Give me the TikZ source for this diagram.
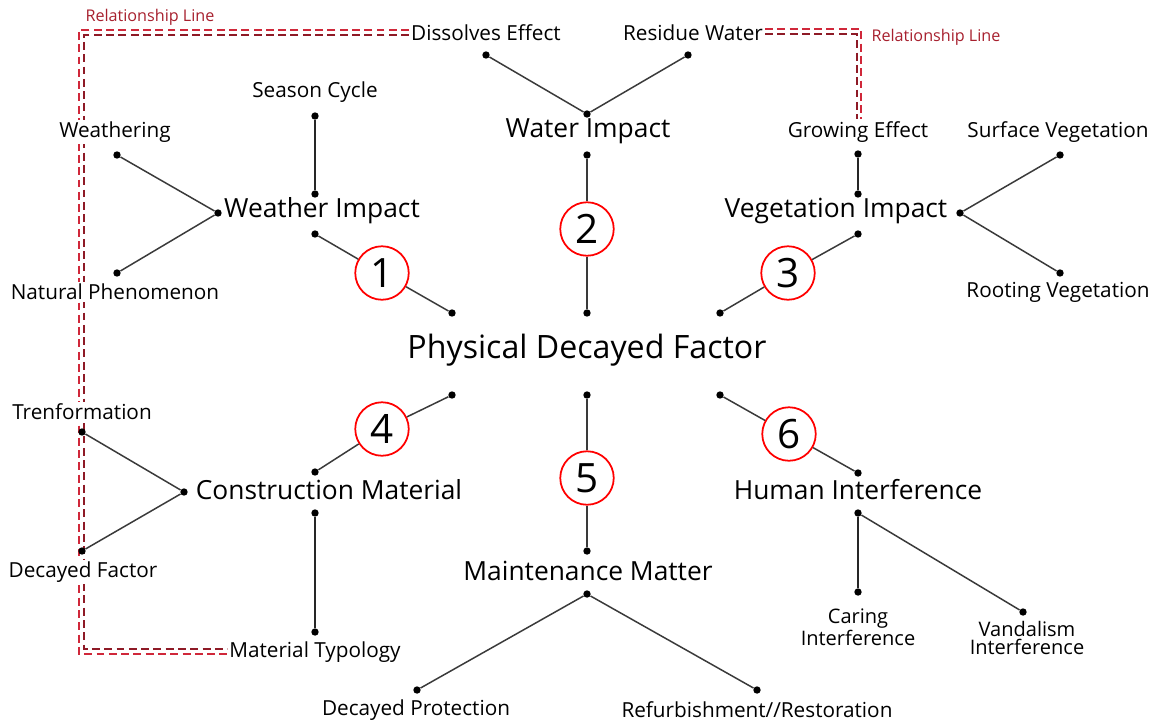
\documentclass[tikz,border=0pt]{standalone}
\usepackage{fontspec}
\setmainfont{Open Sans}
\usepackage{tikz}
\usetikzlibrary{backgrounds}
\definecolor{relred}{HTML}{D0283A}
\definecolor{reldark}{HTML}{8E1A26}
\definecolor{linkgray}{HTML}{3A3A3A}
\tikzset{
  jdot/.style = {circle, fill=black, inner sep=0pt, minimum size=4.2pt},
  link/.style = {draw=linkgray, line width=0.85pt},
  thick link/.style = {draw=black!85, line width=1.3pt},
  small/.style = {inner sep=1pt, fill=white, font=\fontsize{11.8}{13}\selectfont},
  mid/.style = {inner sep=1pt, fill=white, font=\fontsize{15}{17}\selectfont},
  hub/.style = {inner sep=0pt, font=\fontsize{18.3}{21}\selectfont},
  numcirc/.style = {circle, draw=red, fill=white, line width=1pt, minimum size=1.07cm, inner sep=0pt, font=\fontsize{23}{24}\selectfont},
  relA/.style = {draw=relred, line width=1pt, dash pattern=on 4.5pt off 2.5pt},
  relB/.style = {draw=reldark, line width=1pt, dash pattern=on 4.5pt off 2.5pt},
  reltext/.style = {inner sep=0pt, text=relred!80!black, font=\fontsize{9.2}{11}\selectfont}
}
\begin{document}
\begin{tikzpicture}[x=0.02cm, y=-0.02cm]
  \useasboundingbox (0,0) rectangle (1158,724);

  % centre
  \node[hub] (pdf) at (587,350) {Physical Decayed Factor};
  \node[jdot] (c-nw) at (452,313) {};
  \node[jdot] (c-n)  at (587,313) {};
  \node[jdot] (c-ne) at (720,313) {};
  \node[jdot] (c-sw) at (452,395) {};
  \node[jdot] (c-s)  at (587,395) {};
  \node[jdot] (c-se) at (720,395) {};

  % 1 weather
  \node[mid] (wi) at (322,211) {Weather Impact};
  \node[small] (sea) at (315,92) {Season Cycle};
  \node[small] (wea) at (115,132) {Weathering};
  \node[small] (nat) at (115,292) {Natural Phenomenon};
  \node[jdot] (wi-n) at (315,194) {};
  \node[jdot] (wi-s) at (315,234) {};
  \node[jdot] (wi-w) at (218,213) {};
  \node[jdot] (sea-d) at (315,116) {};
  \node[jdot] (wea-d) at (117,155) {};
  \node[jdot] (nat-d) at (117,273) {};
  \draw[thick link] (sea-d) -- (wi-n);
  \draw[link] (wea-d) -- (wi-w) -- (nat-d);

  % 2 water
  \node[mid] (wat) at (588,131) {Water Impact};
  \node[small] (dis) at (486,33) {Dissolves Effect};
  \node[small] (res) at (693,33) {Residue Water};
  \node[jdot] (wat-n) at (587,114) {};
  \node[jdot] (wat-s) at (587,155) {};
  \node[jdot] (dis-d) at (486,55) {};
  \node[jdot] (res-d) at (688,55) {};
  \draw[link] (dis-d) -- (wat-n) -- (res-d);

  % 3 vegetation
  \node[mid] (vi) at (836,211) {Vegetation Impact};
  \node[small] (gro) at (858,132) {Growing Effect};
  \node[small] (sur) at (1058,132) {Surface Vegetation};
  \node[small] (rot) at (1058,292) {Rooting Vegetation};
  \node[jdot] (vi-n) at (858,194) {};
  \node[jdot] (vi-s) at (858,234) {};
  \node[jdot] (vi-e) at (960,213) {};
  \node[jdot] (gro-d) at (858,154) {};
  \node[jdot] (sur-d) at (1060,155) {};
  \node[jdot] (rot-d) at (1060,273) {};
  \draw[thick link] (gro-d) -- (vi-n);
  \draw[link] (sur-d) -- (vi-e) -- (rot-d);

  % 4 construction
  \node[mid] (cm) at (329,490) {Construction Material};
  \node[small] (tre) at (82,412) {Trenformation};
  \node[small] (dec) at (83,572) {Decayed Factor};
  \node[small] (mt) at (315,652) {Material Typology};
  \node[jdot] (cm-n) at (315,472) {};
  \node[jdot] (cm-s) at (315,513) {};
  \node[jdot] (cm-w) at (184,492) {};
  \node[jdot] (tre-d) at (82,432) {};
  \node[jdot] (dec-d) at (82,551) {};
  \node[jdot] (mt-d) at (315,632) {};
  \draw[thick link] (cm-s) -- (mt-d);
  \draw[link] (tre-d) -- (cm-w) -- (dec-d);

  % 5 maintenance
  \node[mid] (mm) at (588,571) {Maintenance Matter};
  \node[small] (dp) at (416,710) {Decayed Protection};
  \node[small] (ref) at (757,710) {Refurbishment//Restoration};
  \node[jdot] (mm-n) at (587,551) {};
  \node[jdot] (mm-s) at (587,594) {};
  \node[jdot] (dp-d) at (417,690) {};
  \node[jdot] (ref-d) at (757,690) {};
  \draw[link] (dp-d) -- (mm-s) -- (ref-d);

  % 6 human
  \node[mid] (hi) at (858,490) {Human Interference};
  \node[small, align=center, font=\fontsize{11.4}{10.4}\selectfont] (car) at (858,627) {Caring\\Interference};
  \node[small, align=center, font=\fontsize{11.4}{10.4}\selectfont] (van) at (1027,638) {Vandalism\\Interference};
  \node[jdot] (hi-n) at (858,473) {};
  \node[jdot] (hi-s) at (858,513) {};
  \node[jdot] (car-d) at (858,592) {};
  \node[jdot] (van-d) at (1023,612) {};
  \draw[thick link] (hi-s) -- (car-d);
  \draw[link] (hi-s) -- (van-d);

  % numbered branches
  \node[numcirc] (n1) at (382,273) {1};
  \node[numcirc] (n2) at (587,229) {2};
  \node[numcirc] (n3) at (788,273) {3};
  \node[numcirc] (n4) at (382,429) {4};
  \node[numcirc] (n5) at (587,478) {5};
  \node[numcirc] (n6) at (789,434) {6};
  \draw[link] (wi-s) -- (n1) -- (c-nw);
  \draw[link] (wat-s) -- (n2) -- (c-n);
  \draw[link] (vi-s) -- (n3) -- (c-ne);
  \draw[link] (cm-n) -- (n4) -- (c-sw);
  \draw[link] (mm-n) -- (n5) -- (c-s);
  \draw[link] (hi-n) -- (n6) -- (c-se);

  % relationship lines, kept behind the labels
  \node[reltext] (rl1) at (150,17) {Relationship Line};
  \node[reltext] (rl2) at (936,37) {Relationship Line};
  \coordinate (ra1) at (79,30);
  \coordinate (ra2) at (79,654);
  \coordinate (rb1) at (84,35);
  \coordinate (rb2) at (84,649);
  \coordinate (rc1) at (861,29);
  \coordinate (rd1) at (857,34);
  \begin{scope}[on background layer]
    \draw[relA] (dis.west |- ra1) -- (ra1) -- (ra2) -- (mt.west |- ra2);
    \draw[relB] (dis.west |- rb1) -- (rb1) -- (rb2) -- (mt.west |- rb2);
    \draw[relA] (res.east |- rc1) -- (rc1) -- (rc1 |- gro.north);
    \draw[relB] (res.east |- rd1) -- (rd1) -- (rd1 |- gro.north);
  \end{scope}
\end{tikzpicture}
\end{document}
